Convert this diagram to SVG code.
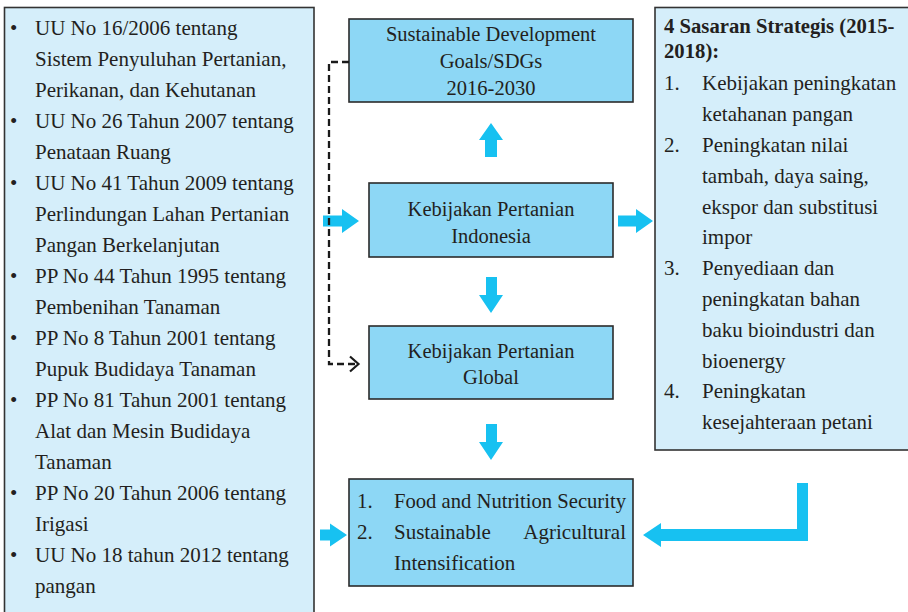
<svg xmlns="http://www.w3.org/2000/svg" width="908" height="612" viewBox="0 0 908 612">
<style>
.panel{fill:#d5eefa;stroke:#333;stroke-width:1.6}
.node{fill:#8dd7f5;stroke:#2b2b2b;stroke-width:1.6}
text{font-family:"Liberation Serif","Times New Roman",serif;fill:#231f20}
.l{font-size:21px}
.c{font-size:20.5px;text-anchor:middle}
.b{font-size:20.7px;font-weight:bold}
.arr{fill:#17c1f1}
.dash{fill:none;stroke:#1a1a1a;stroke-width:2.3;stroke-dasharray:7 4}
</style>
<rect width="908" height="612" fill="#ffffff"/>

<g id="left-panel">
<rect class="panel" x="4.5" y="7.5" width="309.5" height="620"/>
<g class="l">
<text x="10" y="35">•</text><text x="35" y="35">UU No 16/2006 tentang</text>
<text x="35" y="66">Sistem Penyuluhan Pertanian,</text>
<text x="35" y="97">Perikanan, dan Kehutanan</text>
<text x="10" y="128">•</text><text x="35" y="128">UU No 26 Tahun 2007 tentang</text>
<text x="35" y="159">Penataan Ruang</text>
<text x="10" y="190">•</text><text x="35" y="190">UU No 41 Tahun 2009 tentang</text>
<text x="35" y="221">Perlindungan Lahan Pertanian</text>
<text x="35" y="252">Pangan Berkelanjutan</text>
<text x="10" y="283">•</text><text x="35" y="283">PP No 44 Tahun 1995 tentang</text>
<text x="35" y="314">Pembenihan Tanaman</text>
<text x="10" y="345">•</text><text x="35" y="345">PP No 8 Tahun 2001 tentang</text>
<text x="35" y="376">Pupuk Budidaya Tanaman</text>
<text x="10" y="407">•</text><text x="35" y="407">PP No 81 Tahun 2001 tentang</text>
<text x="35" y="438">Alat dan Mesin Budidaya</text>
<text x="35" y="469">Tanaman</text>
<text x="10" y="500">•</text><text x="35" y="500">PP No 20 Tahun 2006 tentang</text>
<text x="35" y="531">Irigasi</text>
<text x="10" y="562">•</text><text x="35" y="562">UU No 18 tahun 2012 tentang</text>
<text x="35" y="593">pangan</text>
</g>
</g>

<g id="sdgs">
<rect class="node" x="349" y="19" width="284" height="83"/>
<text class="c" x="491" y="41">Sustainable Development</text>
<text class="c" x="491" y="68">Goals/SDGs</text>
<text class="c" x="491" y="95">2016-2030</text>
</g>

<g id="indonesia">
<rect class="node" x="369" y="183" width="244" height="74"/>
<text class="c" x="491" y="216">Kebijakan Pertanian</text>
<text class="c" x="491" y="243">Indonesia</text>
</g>

<g id="global">
<rect class="node" x="369" y="326" width="244" height="73"/>
<text class="c" x="491" y="358">Kebijakan Pertanian</text>
<text class="c" x="491" y="384">Global</text>
</g>

<g id="outcome">
<rect class="node" x="349" y="479" width="284" height="107"/>
<g class="l">
<text x="357" y="508">1.</text>
<text x="394" y="508" textLength="232" lengthAdjust="spacingAndGlyphs">Food and Nutrition Security</text>
<text x="357" y="539">2.</text>
<text x="394" y="539">Sustainable</text>
<text x="626" y="539" text-anchor="end">Agricultural</text>
<text x="394" y="570">Intensification</text>
</g>
</g>

<g id="right-panel">
<rect class="panel" x="655" y="7.5" width="260" height="442.5"/>
<text class="b" x="664" y="33">4 Sasaran Strategis (2015-</text>
<text class="b" x="664" y="58">2018):</text>
<g class="l">
<text x="664" y="90">1.</text><text x="702" y="90">Kebijakan peningkatan</text>
<text x="702" y="121">ketahanan pangan</text>
<text x="664" y="152">2.</text><text x="702" y="152">Peningkatan nilai</text>
<text x="702" y="183">tambah, daya saing,</text>
<text x="702" y="214">ekspor dan substitusi</text>
<text x="702" y="244">impor</text>
<text x="664" y="275">3.</text><text x="702" y="275">Penyediaan dan</text>
<text x="702" y="306">peningkatan bahan</text>
<text x="702" y="337">baku bioindustri dan</text>
<text x="702" y="368">bioenergy</text>
<text x="664" y="398">4.</text><text x="702" y="398">Peningkatan</text>
<text x="702" y="429">kesejahteraan petani</text>
</g>
</g>

<g id="connectors">
<polygon class="arr" points="485,157 497,157 497,140 503,140 491,123 479,140 485,140"/>
<polygon class="arr" points="323,215.5 342,215.5 342,209 359,221 342,233 342,226.5 323,226.5"/>
<polygon class="arr" points="618,215.5 636,215.5 636,209 653,221 636,233 636,226.5 618,226.5"/>
<polygon class="arr" points="486,277 497,277 497,295 503,295 491,313 479,295 486,295"/>
<polygon class="arr" points="486,424 497,424 497,442 503,442 491,460 479,442 486,442"/>
<polygon class="arr" points="320,529.5 330,529.5 330,523.5 347,535 330,546.5 330,540.5 320,540.5"/>
<polygon class="arr" points="797,483 808,483 808,541 661,541 661,547 643,535 661,523 661,529 797,529"/>
<path class="dash" d="M349,62 H329 V364 H356"/>
<path d="M350,356.5 L358.5,364 L350,371.5" fill="none" stroke="#1a1a1a" stroke-width="2.2"/>
</g>
</svg>
